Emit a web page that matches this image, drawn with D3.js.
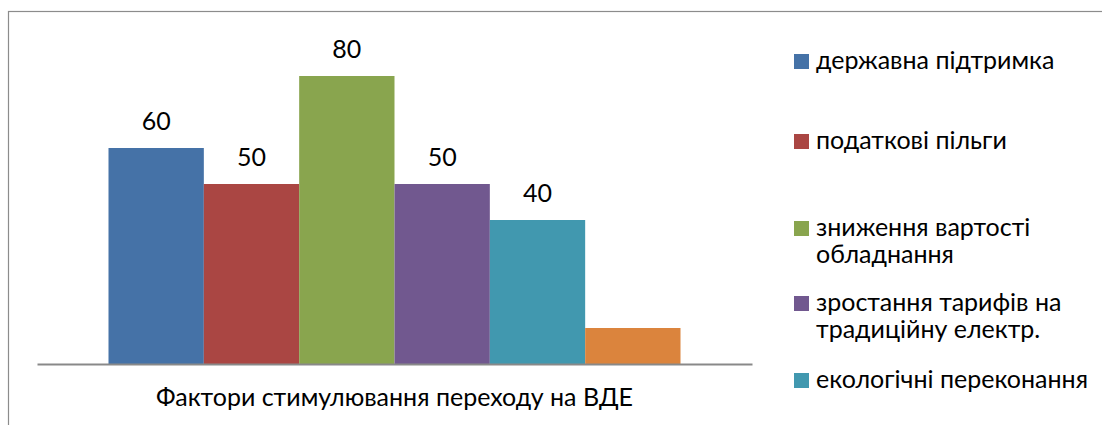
<!DOCTYPE html>
<html>
<head>
<meta charset="utf-8">
<script src="https://cdn.jsdelivr.net/npm/d3@7"></script>
<style>
  body { margin: 0; background: #fff; }
  svg { display: block; font-family: Lato, "Open Sans", sans-serif; }
</style>
</head>
<body>
<svg id="chart" width="1102" height="425"></svg>
<script>
// data
const categories = ["Фактори стимулювання переходу на ВДЕ"];
const seriesNames = [
  "державна підтримка",
  "податкові пільги",
  "зниження вартості обладнання",
  "зростання тарифів на традиційну електр.",
  "екологічні переконання",
  "інше"
];
const values = [60, 50, 80, 50, 40, 10];
const showLabel = [true, true, true, true, true, false];
// legend entries visible in the crop (the 6th falls below the picture)
const legendLines = [
  ["державна підтримка"],
  ["податкові пільги"],
  ["зниження вартості", "обладнання"],
  ["зростання тарифів на", "традиційну електр."],
  ["екологічні переконання"]
];
const colors = ["#4572A7", "#AA4643", "#89A54E", "#71588F", "#4198AF", "#DB843D"];

const svg = d3.select("#chart");
const fs = 25;

// outer frame (only left/top visible in the crop)
svg.append("rect")
  .attr("x", 8.5).attr("y", 11.5)
  .attr("width", 1200).attr("height", 600)
  .attr("fill", "none")
  .attr("stroke", "#8c8c8c")
  .attr("stroke-width", 1.2);

const x0 = d3.scaleBand()
  .domain(categories)
  .range([37, 752])
  .paddingInner(0)
  .paddingOuter(0.125);

const x1 = d3.scaleBand()
  .domain(seriesNames)
  .range([0, x0.bandwidth()])
  .padding(0);

const y = d3.scaleLinear()
  .domain([0, 90])
  .range([364, 40]);

const g = svg.append("g");

const bars = g.selectAll("g.cat")
  .data(categories)
  .join("g")
  .attr("class", "cat")
  .attr("transform", d => `translate(${x0(d)},0)`);

bars.selectAll("rect")
  .data(seriesNames.map((s, i) => ({ s, v: values[i], c: colors[i] })))
  .join("rect")
  .attr("x", d => x1(d.s))
  .attr("y", d => y(d.v))
  .attr("width", x1.bandwidth())
  .attr("height", d => y(0) - y(d.v))
  .attr("fill", d => d.c);

bars.selectAll("text.val")
  .data(seriesNames.map((s, i) => ({ s, v: values[i], lab: showLabel[i] })).filter(d => d.lab))
  .join("text")
  .attr("class", "val")
  .attr("x", d => x1(d.s) + x1.bandwidth() / 2)
  .attr("y", d => y(d.v) - 18)
  .attr("text-anchor", "middle")
  .attr("font-size", fs)
  .attr("fill", "#000")
  .text(d => d.v);

// category axis
const ax = svg.append("g")
  .attr("transform", `translate(0,${y(0)})`)
  .call(d3.axisBottom(x0).tickSize(0).tickSizeOuter(0));
ax.select(".domain").attr("stroke", "#898989").attr("stroke-width", 2);
ax.selectAll(".tick text")
  .attr("dy", null)
  .attr("y", 42)
  .attr("font-size", fs)
  .attr("font-family", "Lato, sans-serif")
  .attr("fill", "#000");

// legend
const legendTop = [69, 149, 236, 311, 388];
const lg = svg.append("g");
legendLines.forEach((lines, i) => {
  const item = lg.append("g").attr("transform", `translate(794,${legendTop[i]})`);
  item.append("rect")
    .attr("x", 0).attr("y", -15)
    .attr("width", 15).attr("height", 15)
    .attr("fill", colors[i]);
  const t = item.append("text")
    .attr("x", 22)
    .attr("font-size", fs)
    .attr("fill", "#000");
  lines.forEach((ln, j) => {
    t.append("tspan").attr("x", 22).attr("y", j * 27).text(ln);
  });
});
</script>
</body>
</html>
